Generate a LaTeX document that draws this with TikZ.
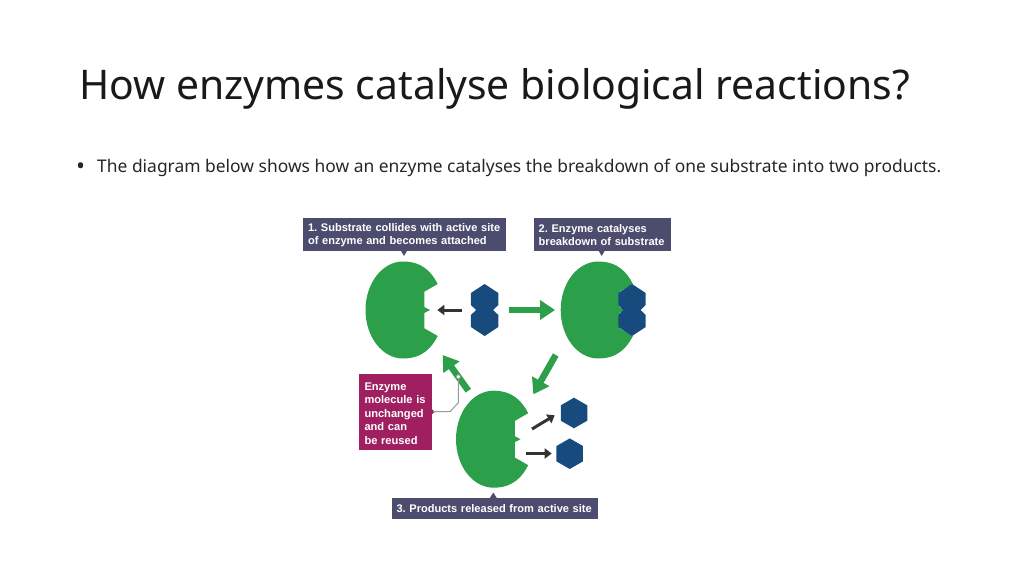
\documentclass[tikz,border=0pt]{standalone}
\usepackage{fontspec}
\setmainfont{Noto Sans}
\newfontfamily\labelfont{Liberation Sans}
\usetikzlibrary{arrows.meta,shapes.geometric}
\definecolor{enzgreen}{HTML}{2C9F4B}
\definecolor{subblue}{HTML}{174B7E}
\definecolor{boxgrey}{HTML}{4C4C6E}
\definecolor{boxpink}{HTML}{A01F60}
\definecolor{inkdark}{HTML}{333333}
\newcommand{\lift}{\rule{0pt}{10.5pt}}
\tikzset{
  stepbox/.style={fill=boxgrey,text=white,font=\labelfont\bfseries\frenchspacing\fontsize{11.05}{13}\selectfont,align=left,inner sep=0pt},
  notebox/.style={fill=boxpink,text=white,font=\labelfont\bfseries\frenchspacing\fontsize{11.1}{13.5}\selectfont,align=left,inner sep=0pt},
  product/.style={regular polygon,regular polygon sides=6,shape border rotate=30,fill=subblue,minimum size=30.6pt,inner sep=0pt},
  bigarrow/.style={enzgreen,line width=6.5pt,-{Triangle[length=15pt,width=19pt]}},
  smallarrow/.style={inkdark,line width=3pt,-{Triangle[length=7pt,width=10pt]}},
  pics/enzyme/.style={code={
    \fill[enzgreen] (34.7,-26) .. controls (29,-37) and (20,-48.5) .. (0,-48.5)
      .. controls (-20.7,-48.5) and (-37.5,-26.8) .. (-37.5,0)
      .. controls (-37.5,26.8) and (-20.7,48.5) .. (0,48.5)
      .. controls (20,48.5) and (29,37) .. (34.7,26)
      -- (21.3,18.3) -- (21.3,3) -- (27,0) -- (21.3,-3) -- (21.3,-18.3) -- cycle;
  }},
  pics/substrate/.style={code={
    \fill[subblue] (0,-26) -- (13.7,-17) -- (13.7,-5) -- (8.5,0) -- (13.7,5) -- (13.7,17) -- (0,26)
      -- (-13.7,17) -- (-13.7,5) -- (-8.5,0) -- (-13.7,-5) -- (-13.7,-17) -- cycle;
  }}
}
\begin{document}
\begin{tikzpicture}[x=1pt,y=-1pt]
\useasboundingbox (0,0) rectangle (1024,576);
% heading
\node[anchor=base west,inner sep=0pt,text=black!90,font=\fontsize{40.85}{50}\selectfont] (title) at (79,99) {How enzymes catalyse biological reactions?};
\node[anchor=base west,inner sep=0pt,text=black!85,font=\fontsize{24}{20}\selectfont] (bullet) at (76,174) {\textbullet};
\node[anchor=base west,inner sep=0pt,text=black!85,font=\fontsize{17.43}{20}\selectfont] (intro) at (97,172) {The diagram below shows how an enzyme catalyses the breakdown of one substrate into two products.};
% enzymes and substrate
\pic (enzA) at (403,310) {enzyme};
\pic (enzB) at (598.2,310) {enzyme};
\pic (enzC) at (493.5,439.2) {enzyme};
\pic (subA) at (484.6,310) {substrate};
\pic (subB) at (632,310) {substrate};
\node[product] (prodA) at (574,413) {};
\node[product] (prodB) at (569.7,453.7) {};
% labels
\node[stepbox,minimum width=202.7pt,minimum height=32.5pt,text width=192.7pt] (stepA) at (404.35,234.25) {\lift 1. Substrate collides with active site\\of enzyme and becomes attached};
\node[stepbox,minimum width=137pt,minimum height=32.5pt,text width=127pt] (stepB) at (602.2,234.25) {\lift 2. Enzyme catalyses\\breakdown of substrate};
\node[stepbox,minimum width=206.6pt,minimum height=21.3pt,text width=197pt] (stepC) at (495,508.35) {3. Products released from active site};
\node[notebox,minimum width=72.4pt,minimum height=75.7pt,text width=62pt] (note) at (395.5,412.15) {\lift Enzyme\\molecule is\\unchanged\\and can\\be reused};
\fill[boxgrey] (400.5,250) -- (404,256) -- (407.5,250) -- cycle;
\fill[boxgrey] (598.2,250) -- (601.7,256) -- (605.2,250) -- cycle;
\fill[boxgrey] (489.8,498) -- (493.3,492.5) -- (496.8,498) -- cycle;
% arrows
\coordinate (tailA) at (509.3,310); \coordinate (tipA) at (555,310);
\coordinate (tailB) at (555.7,355); \coordinate (tipB) at (533.3,394.3);
\coordinate (tailC) at (468.3,390.7); \coordinate (tipC) at (442.7,355);
\draw[bigarrow] (tailA) -- (tipA);
\draw[bigarrow] (tailB) -- (tipB);
\draw[bigarrow] (tailC) -- (tipC);
\coordinate (inA) at (462.3,310); \coordinate (outA) at (437.3,310);
\coordinate (inB) at (532,429); \coordinate (outB) at (554.7,415.3);
\coordinate (inC) at (526,453.5); \coordinate (outC) at (551.7,453.5);
\draw[smallarrow] (inA) -- (outA);
\draw[smallarrow] (inB) -- (outB);
\draw[smallarrow] (inC) -- (outC);
% callout
\coordinate (dot) at (458.3,376.7);
\fill[boxpink] (431,408.5) -- (435,411.7) -- (431,415) -- cycle;
\draw[black!40,line width=1pt] (433,411.7) -- (450,411.7) -- (458.3,402.7) -- (dot);
\filldraw[draw=black!40,fill=white,line width=.8pt] (dot) circle (2pt);
\end{tikzpicture}
\end{document}
